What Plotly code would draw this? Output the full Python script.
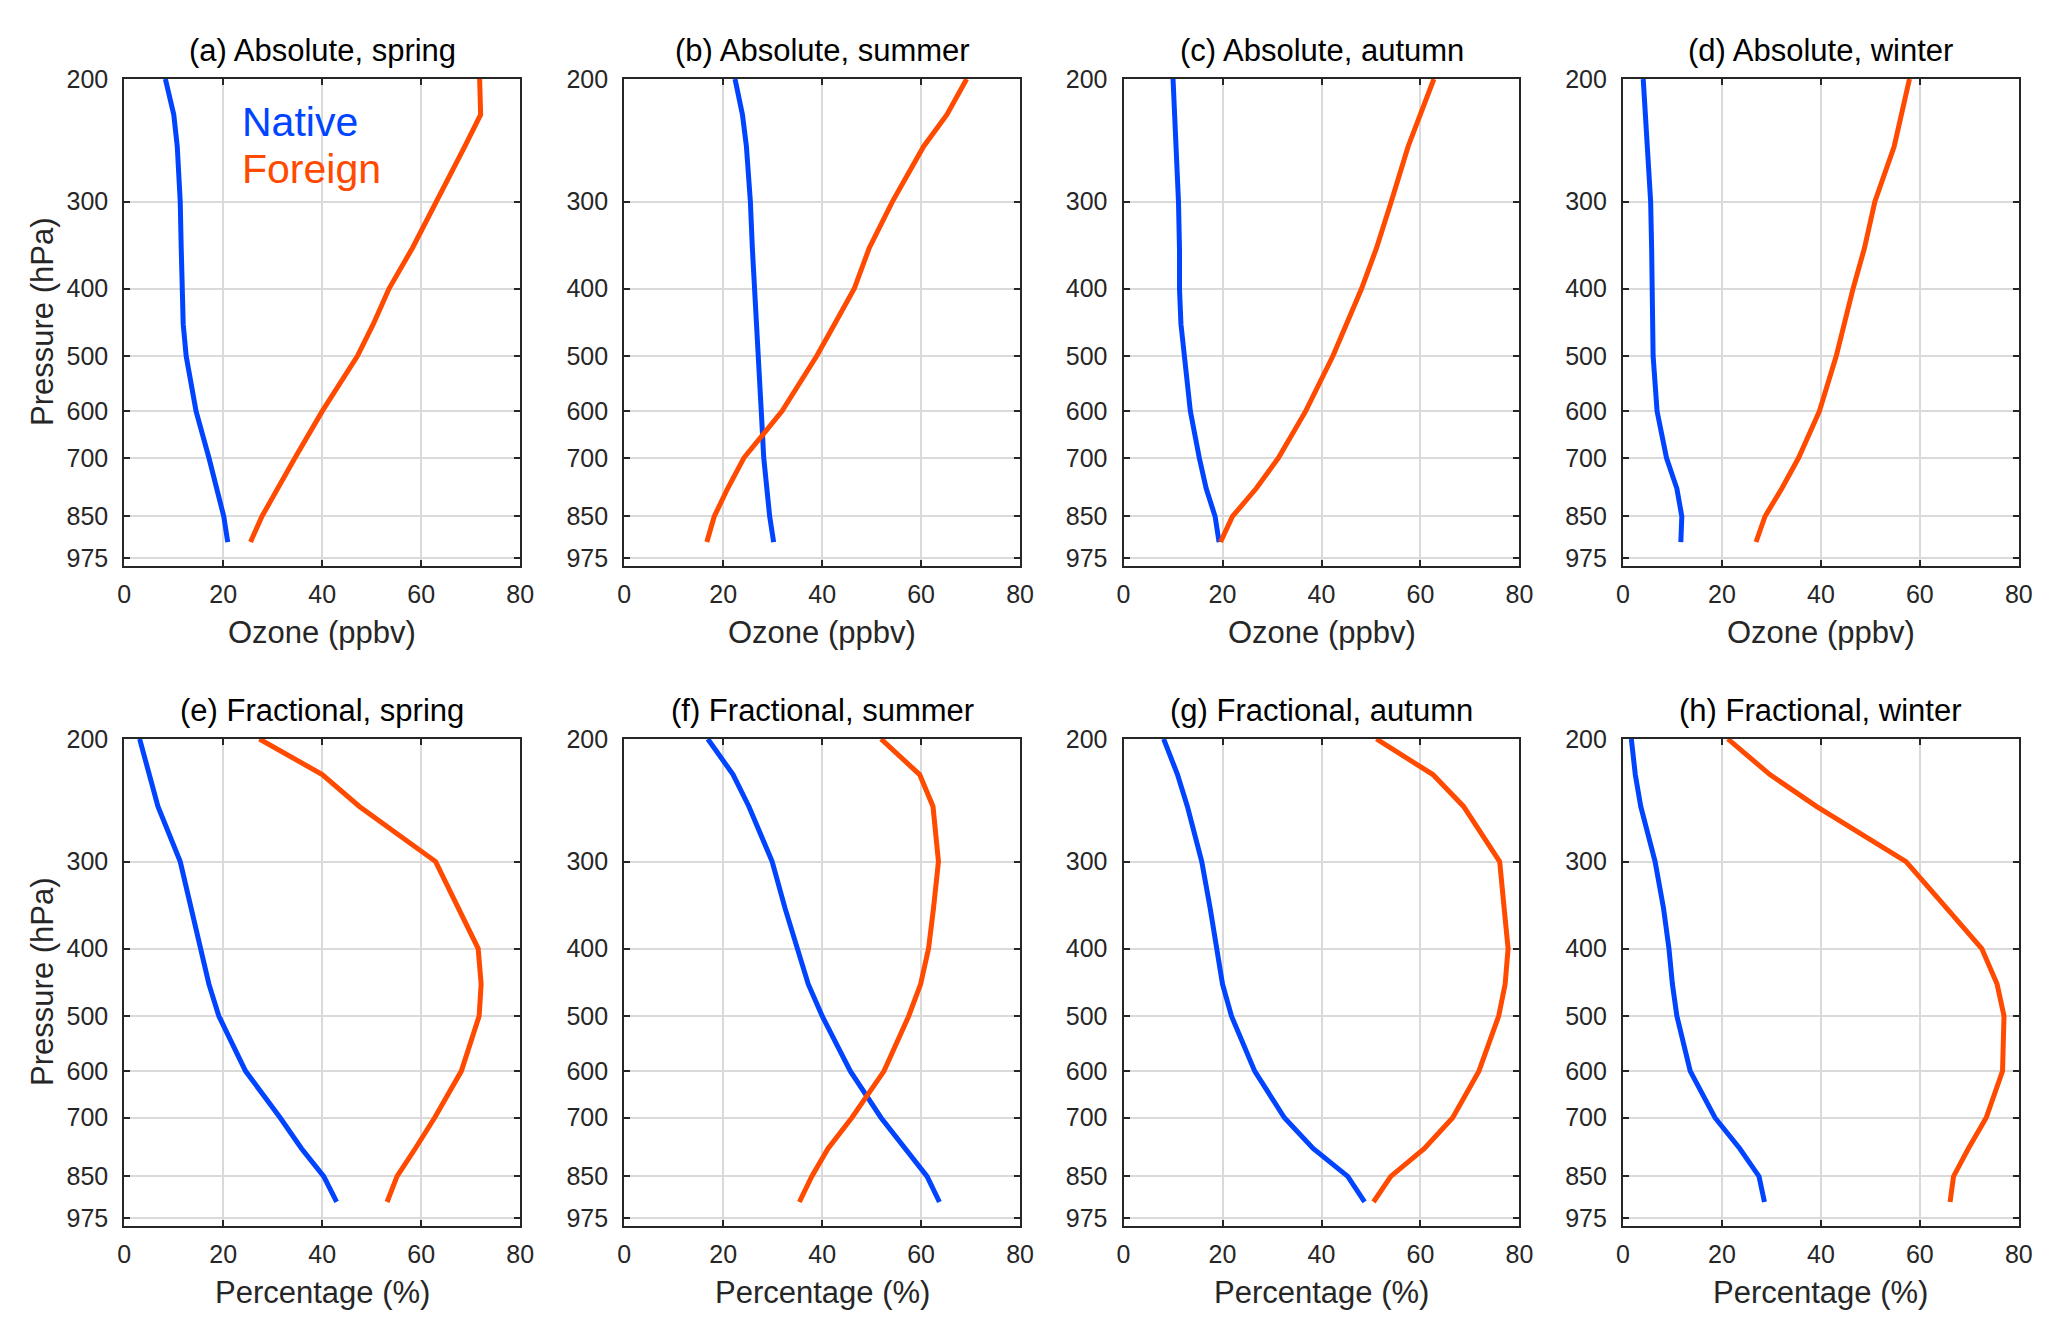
import math
import plotly.graph_objects as go

W, H = 2068, 1334

# pressure levels (hPa) of the profiles
pressure = [200, 225, 250, 300, 350, 400, 450, 500, 600, 700, 775, 850, 925]
pressure_ticks = [200, 300, 400, 500, 600, 700, 850, 975]
x_ticks = [0, 20, 40, 60, 80]

# absolute ozone (ppbv)
native_abs_spring = [8.3, 10.0, 10.7, 11.3, 11.5, 11.7, 11.9, 12.5, 14.5, 17.1, 18.7, 20.1, 20.9]
foreign_abs_spring = [71.8, 72.0, 68.8, 63.1, 58.2, 53.5, 50.3, 47.1, 40.0, 34.5, 31.1, 27.8, 25.5]
native_abs_summer = [22.4, 23.9, 24.7, 25.5, 25.9, 26.4, 26.8, 27.2, 27.7, 28.2, 28.7, 29.4, 30.2]
foreign_abs_summer = [69.2, 65.2, 60.5, 54.2, 49.5, 46.5, 42.5, 38.9, 31.9, 24.2, 20.9, 18.2, 16.7]
native_abs_autumn = [10.0, 10.3, 10.7, 11.1, 11.3, 11.3, 11.6, 12.3, 13.5, 15.3, 16.7, 18.5, 19.3]
foreign_abs_autumn = [62.7, 60.0, 57.5, 54.1, 51.1, 48.1, 45.1, 42.3, 36.8, 31.3, 26.8, 22.0, 19.6]
native_abs_winter = [4.1, 4.5, 4.8, 5.6, 5.8, 5.9, 5.9, 6.1, 6.9, 8.8, 10.9, 11.9, 11.7]
foreign_abs_winter = [57.9, 56.3, 54.8, 50.9, 48.8, 46.5, 44.8, 43.1, 39.7, 35.5, 32.1, 28.7, 26.9]

# fractional contribution (%)
native_frac_spring = [3.1, 5.1, 6.8, 11.3, 13.5, 15.6, 17.1, 19.1, 24.5, 31.5, 35.8, 40.3, 42.9]
foreign_frac_spring = [27.3, 40.0, 47.5, 62.9, 67.5, 71.5, 72.1, 71.7, 68.1, 62.7, 58.8, 55.1, 53.1]
native_frac_summer = [16.9, 22.0, 25.2, 29.9, 32.5, 35.1, 37.2, 40.0, 45.7, 51.9, 56.9, 61.2, 63.7]
foreign_frac_summer = [51.9, 59.7, 62.4, 63.5, 62.5, 61.5, 59.9, 57.5, 52.5, 46.0, 41.2, 37.9, 35.4]
native_frac_autumn = [8.1, 10.9, 12.9, 15.8, 17.5, 18.7, 20.0, 21.8, 26.5, 32.5, 38.3, 45.3, 48.7]
foreign_frac_autumn = [51.1, 62.5, 68.7, 76.0, 76.9, 77.7, 77.1, 75.8, 71.8, 66.5, 60.8, 54.0, 50.5]
native_frac_winter = [1.7, 2.5, 3.6, 6.5, 8.2, 9.3, 10.0, 10.9, 13.6, 18.6, 23.6, 27.5, 28.6]
foreign_frac_winter = [21.2, 29.7, 39.1, 57.2, 65.4, 72.5, 75.6, 77.0, 76.7, 73.4, 69.8, 66.8, 66.1]

panels = [
    ("(a) Absolute, spring", native_abs_spring, foreign_abs_spring),
    ("(b) Absolute, summer", native_abs_summer, foreign_abs_summer),
    ("(c) Absolute, autumn", native_abs_autumn, foreign_abs_autumn),
    ("(d) Absolute, winter", native_abs_winter, foreign_abs_winter),
    ("(e) Fractional, spring", native_frac_spring, foreign_frac_spring),
    ("(f) Fractional, summer", native_frac_summer, foreign_frac_summer),
    ("(g) Fractional, autumn", native_frac_autumn, foreign_frac_autumn),
    ("(h) Fractional, winter", native_frac_winter, foreign_frac_winter),
]
x_titles = ["Ozone (ppbv)", "Percentage (%)"]

BLUE = "#0044FF"
ORANGE = "#FF4A00"
AXC = "#262626"
FONT = "Liberation Sans, Arial, Helvetica, sans-serif"

# panel placement in pixels
col_left = [118.5, 623.5, 1128, 1632.5]
row_top = [66, 736]
pw, ph = 400, 494


def px(x):
    return x / W


def py(y):
    return 1 - y / H


fig = go.Figure()
annotations = []
layout = {}

for i, (title, nat, fgn) in enumerate(panels):
    r, c = divmod(i, 4)
    k = i + 1
    sx = "" if k == 1 else str(k)
    for vals, color in ((nat, BLUE), (fgn, ORANGE)):
        fig.add_trace(go.Scatter(x=vals, y=pressure, mode="lines",
                                 line=dict(color=color, width=5),
                                 xaxis="x" + sx, yaxis="y" + sx, showlegend=False))
    x0, x1 = px(col_left[c]), px(col_left[c] + pw)
    y0, y1 = py(row_top[r] + ph), py(row_top[r])
    common = dict(showline=True, linecolor=AXC, linewidth=2, mirror="ticks",
                  ticks="inside", ticklen=6, tickwidth=2, tickcolor=AXC,
                  showgrid=True, gridcolor="#dadada", gridwidth=1.5, zeroline=False,
                  tickfont=dict(family=FONT, size=25, color=AXC))
    layout["xaxis" + sx] = dict(domain=[x0, x1], anchor="y" + sx, range=[0, 80],
                                tickvals=x_ticks, ticklabelstandoff=5, **common)
    layout["yaxis" + sx] = dict(domain=[y0, y1], anchor="x" + sx, type="log",
                                range=[math.log10(1000), math.log10(200)],
                                tickvals=pressure_ticks,
                                ticktext=[str(p) for p in pressure_ticks],
                                ticklabelstandoff=9, **common)
    xc = (x0 + x1) / 2
    annotations.append(dict(text=title, x=xc, y=py(row_top[r] - 29),
                            xref="paper", yref="paper", showarrow=False,
                            xanchor="center", yanchor="middle",
                            font=dict(family=FONT, size=31, color="black")))
    annotations.append(dict(text=x_titles[r], x=xc, y=py(row_top[r] + 562),
                            xref="paper", yref="paper", showarrow=False,
                            xanchor="center", yanchor="middle",
                            font=dict(family=FONT, size=31, color=AXC)))
    if c == 0:
        annotations.append(dict(text="Pressure (hPa)", x=px(36),
                                y=py(row_top[r] + ph / 2),
                                xref="paper", yref="paper", showarrow=False,
                                textangle=-90, xanchor="center", yanchor="middle",
                                font=dict(family=FONT, size=31, color=AXC)))

# in-panel labels of panel (a)
annotations.append(dict(text="Native", x=0.293, y=1 - 44 / ph, xref="x domain",
                        yref="y domain", showarrow=False, xanchor="left",
                        yanchor="middle", font=dict(family=FONT, size=41, color=BLUE)))
annotations.append(dict(text="Foreign", x=0.293, y=1 - 91 / ph, xref="x domain",
                        yref="y domain", showarrow=False, xanchor="left",
                        yanchor="middle", font=dict(family=FONT, size=41, color=ORANGE)))

fig.update_layout(width=W, height=H, margin=dict(l=0, r=0, t=0, b=0),
                  paper_bgcolor="white", plot_bgcolor="white",
                  annotations=annotations, **layout)

# drop the browser's default body margin so the figure fills the window exactly
fig.write_html("out.html", config={"displayModeBar": False},
               post_script="document.body.style.margin = '0';")
